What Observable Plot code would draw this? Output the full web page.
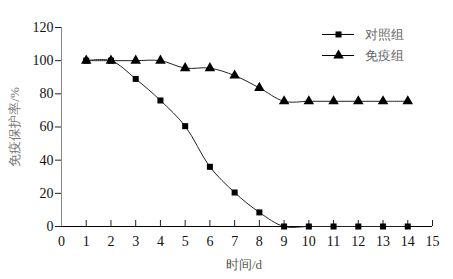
<!DOCTYPE html>
<html><head><meta charset="utf-8">
<script src="https://cdn.jsdelivr.net/npm/d3@7"></script>
<script src="https://cdn.jsdelivr.net/npm/@observablehq/plot@0.6"></script>
<style>body{margin:0;background:#fff}
#chart svg, #chart svg g{font-family:'Liberation Serif','Times New Roman',serif !important;}
</style>
</head><body><div id="chart"></div>
<script>
const days = [1,2,3,4,5,6,7,8,9,10,11,12,13,14];
const control = [100,100,89,76,60.5,36,20.5,8.5,0,0,0,0,0,0];
const immune = [100,100,100,100,95.5,95.5,91,83.6,75.5,75.5,75.5,75.5,75.5,75.5];
const seriesNames = ["对照组","免疫组"];
const xTicks = d3.range(0,16);
const yTicks = [0,20,40,60,80,100,120];
const xLabel = "时间/d";
const yLabel = "免疫保护率/%";

const ctl = days.map((d,i)=>({day:d, v:control[i]}));
const imm = days.map((d,i)=>({day:d, v:immune[i]}));
const legend = [
  {name: seriesNames[0], y: 115.8, symbol: "square", r: 3.4},
  {name: seriesNames[1], y: 103.1, symbol: "triangle", r: 3.9}
];
const serif = "Liberation Serif";
const cjk = "Noto Sans CJK SC";

const chart = Plot.plot({
  width: 453, height: 279,
  marginLeft: 61, marginRight: 21, marginTop: 27, marginBottom: 53,
  style: {fontSize: "13px", color: "#111", background: "#fff"},
  x: {domain: [0,15]},
  y: {domain: [0,120]},
  r: {type: "identity"},
  marks: [
    Plot.axisY({ticks: yTicks, tickSize: 6, tickPadding: 2, label: null, stroke: "#222", fontSize: 14, fontFamily: serif, fontVariant: "normal", fill: "#111"}),
    Plot.axisX({ticks: xTicks, tickSize: -6, tickPadding: 16, label: null, stroke: "#222", fontSize: 14, fontFamily: serif, fontVariant: "normal", fill: "#111"}),
    Plot.ruleX([0], {stroke: "#888"}),
    Plot.ruleY([0], {stroke: "#000"}),
    Plot.line(ctl, {x: "day", y: "v", curve: "catmull-rom", stroke: "#222", strokeWidth: 1}),
    Plot.line(imm, {x: "day", y: "v", curve: "catmull-rom", stroke: "#222", strokeWidth: 1}),
    Plot.dot(ctl, {x: "day", y: "v", symbol: "square", r: 3.4, fill: "#000", stroke: "none"}),
    Plot.dot(imm, {x: "day", y: "v", symbol: "triangle", r: 3.9, fill: "#000", stroke: "none"}),
    // legend
    Plot.ruleY(legend, {y: "y", x1: 10.55, x2: 11.85, stroke: "#000", strokeWidth: 1}),
    Plot.dot(legend, {x: 11.2, y: "y", symbol: "symbol", r: "r", fill: "#000", stroke: "none"}),
    Plot.text(legend, {x: 12.28, y: "y", text: "name", textAnchor: "start", fontFamily: cjk, fontSize: 13, fill: "#666"}),
    // axis titles
    Plot.text([xLabel], {frameAnchor: "bottom", dx: -3, dy: 42, text: d=>d, fontFamily: cjk, fontSize: 13, fill: "#555"}),
    Plot.text([yLabel], {frameAnchor: "left", textAnchor: "middle", dx: -47, rotate: -90, text: d=>d, fontFamily: cjk, fontSize: 13, fill: "#777"})
  ]
});
document.getElementById("chart").appendChild(chart);
</script>
</body></html>
